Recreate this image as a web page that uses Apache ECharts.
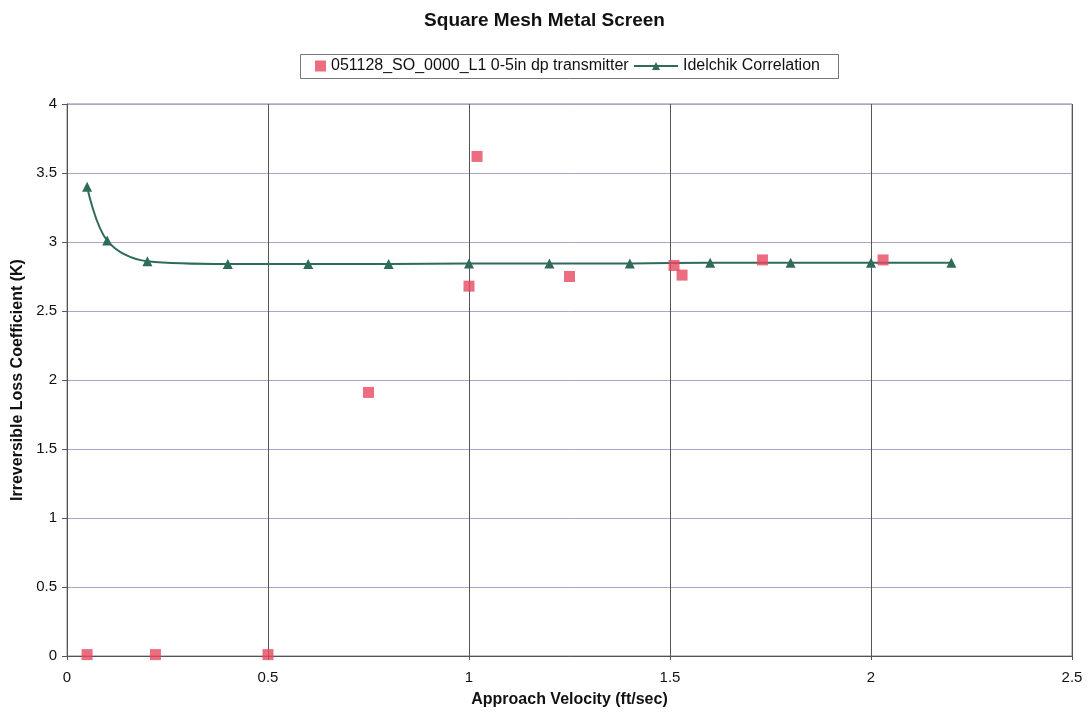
<!DOCTYPE html>
<html><head><meta charset="utf-8">
<script src="https://cdn.jsdelivr.net/npm/echarts@6/dist/echarts.min.js"></script>
<style>html,body{margin:0;padding:0;background:#fff}#c{width:1089px;height:719px}</style>
</head><body><div id="c"></div>
<script>
const measuredX = [0.05, 0.22, 0.5, 0.75, 1.0, 1.02, 1.25, 1.51, 1.53, 1.73, 2.03];
const measuredK = [0.01, 0.01, 0.01, 1.91, 2.68, 3.62, 2.75, 2.83, 2.76, 2.87, 2.87];
const idelX = [0.05, 0.1, 0.2, 0.4, 0.6, 0.8, 1.0, 1.2, 1.4, 1.6, 1.8, 2.0, 2.2];
const idelK = [3.40, 3.01, 2.86, 2.84, 2.84, 2.84, 2.845, 2.845, 2.845, 2.85, 2.85, 2.85, 2.85];
const seriesNames = ['051128_SO_0000_L1 0-5in dp transmitter', 'Idelchik Correlation'];

const font = '"Liberation Sans", Arial, sans-serif';
const legendText = {fontFamily: font, fontSize: 16, color: '#111'};
const chart = echarts.init(document.getElementById('c'), null, {renderer: 'canvas'});
chart.setOption({
  animation: false,
  backgroundColor: '#fff',
  title: {
    text: 'Square Mesh Metal Screen', left: 'center', top: 6,
    textStyle: {fontFamily: font, fontSize: 19, fontWeight: 'bold', color: '#111'}
  },
  graphic: [{
    type: 'rect', left: 300, top: 54, z: 0,
    shape: {width: 538, height: 24},
    style: {fill: '#fff', stroke: '#777', lineWidth: 1}
  }],
  legend: [
    {
      top: 58, left: 315, padding: 0, data: [seriesNames[0]],
      itemWidth: 11, itemHeight: 11, itemGap: 0, textStyle: legendText, z: 5
    },
    {
      top: 58, left: 633, padding: 0, data: [seriesNames[1]],
      itemWidth: 44, itemHeight: 10, itemGap: 0, textStyle: legendText, z: 5
    }
  ],
  grid: {left: 67, right: 17, top: 104, bottom: 63, show: true, borderColor: '#888', borderWidth: 1},
  xAxis: {
    type: 'value', min: 0, max: 2.5, interval: 0.5,
    name: 'Approach Velocity (ft/sec)', nameLocation: 'middle', nameGap: 36,
    nameTextStyle: {fontFamily: font, fontSize: 16, fontWeight: 'bold', color: '#111'},
    axisLine: {lineStyle: {color: '#555'}},
    axisTick: {show: true, inside: false, length: 4, lineStyle: {color: '#555'}},
    axisLabel: {fontFamily: font, fontSize: 15, color: '#111', margin: 14},
    splitLine: {show: true, lineStyle: {color: '#555', width: 1}}
  },
  yAxis: {
    type: 'value', min: 0, max: 4, interval: 0.5,
    name: 'Irreversible Loss Coefficient (K)', nameLocation: 'middle', nameGap: 40,
    nameTextStyle: {fontFamily: font, fontSize: 16, fontWeight: 'bold', color: '#111'},
    axisLine: {show: true, lineStyle: {color: '#555'}},
    axisTick: {show: true, length: 5, lineStyle: {color: '#555'}},
    axisLabel: {fontFamily: font, fontSize: 15, color: '#111', margin: 10},
    splitLine: {show: true, lineStyle: {color: '#a6a6c8', width: 1}}
  },
  series: [
    {
      name: seriesNames[0], type: 'scatter', symbol: 'rect', symbolSize: 11,
      itemStyle: {color: '#e6485f'},
      data: measuredX.map((x, i) => [x, measuredK[i]]), z: 3
    },
    {
      name: seriesNames[1], type: 'line', smooth: 0.35, symbol: 'triangle', symbolSize: 10,
      showAllSymbol: true,
      lineStyle: {color: '#2e6b5a', width: 2},
      itemStyle: {color: '#2e6b5a'},
      data: idelX.map((x, i) => [x, idelK[i]]), z: 2
    }
  ]
});
</script></body></html>
